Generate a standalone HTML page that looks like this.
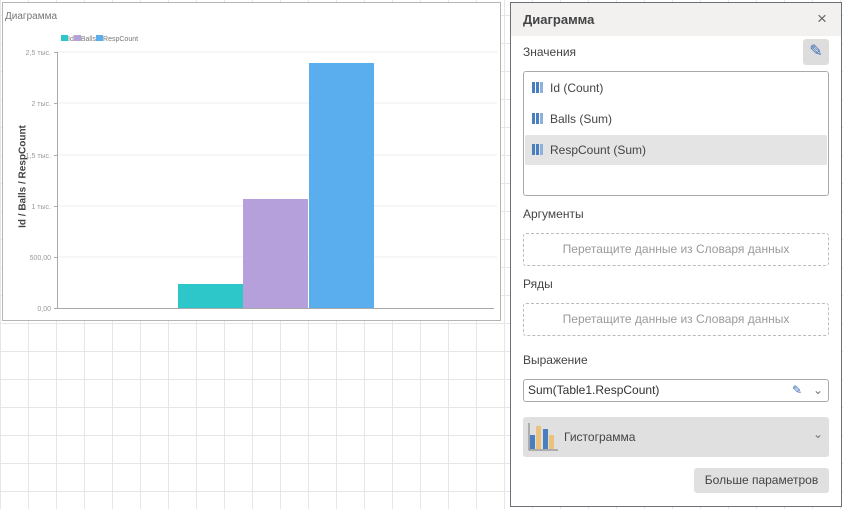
<!DOCTYPE html>
<html><head><meta charset="utf-8"><style>
*{box-sizing:border-box}
body{margin:0;width:843px;height:509px;overflow:hidden;font-family:"Liberation Sans",sans-serif;position:relative;
background-color:#fff;
background-image:linear-gradient(#e6e6e6 1px,transparent 1px),linear-gradient(90deg,#e6e6e6 1px,transparent 1px);
background-size:28px 28px;background-position:0 15px;}
.abs{position:absolute}
.chart{left:2px;top:2px;width:499px;height:319px;background:#fff;border:1px solid #b5b5b5}
.panel{left:510px;top:2px;width:332px;height:505px;background:#fff;border:1px solid #6a6f78}
.lbl{font-size:12px;color:#444}
.dash{border:1px dashed #bbb;border-radius:3px;height:33px;left:12px;width:306px;text-align:center;line-height:31px;font-size:12px;color:#9a9a9a}
.ic{display:inline-block;width:12px;height:11px;vertical-align:-1px;margin-right:6px;background:linear-gradient(90deg,#4a7fbf 0 3px,transparent 3px 4px,#4a7fbf 4px 7px,transparent 7px 8px,#8fb0d9 8px 11px,transparent 11px)}
</style></head><body>
<div class="abs chart">
 <div class="abs" style="left:2px;top:8px;font-size:10px;color:#777">Диаграмма</div>
 <div class="abs" style="left:58px;top:32px;font-size:7px;color:#777;white-space:nowrap">
  <span style="display:inline-block;width:7px;height:6px;background:#2ec7c9"></span>Id<span style="display:inline-block;width:7px;height:6px;background:#b5a0dc"></span>Balls<span style="display:inline-block;width:7px;height:6px;background:#5aaeed"></span>RespCount</div>
 <div class="abs" style="left:-40px;top:168px;transform:rotate(-90deg);font-size:10px;font-weight:bold;color:#444;width:120px;text-align:center">Id / Balls / RespCount</div>
</div>
<svg class="abs" style="left:0;top:0" width="510" height="330">
 <g stroke="#ececec">
  <line x1="57" x2="497" y1="52" y2="52"/><line x1="57" x2="497" y1="103" y2="103"/><line x1="57" x2="497" y1="155" y2="155"/><line x1="57" x2="497" y1="206" y2="206"/><line x1="57" x2="497" y1="257" y2="257"/>
 </g>
 <g stroke="#aaa"><line x1="57.5" x2="57.5" y1="52" y2="308"/><line x1="57" x2="494" y1="308.5" y2="308.5"/>
 <line x1="54" x2="57" y1="52.5" y2="52.5"/><line x1="54" x2="57" y1="103.5" y2="103.5"/><line x1="54" x2="57" y1="155.5" y2="155.5"/><line x1="54" x2="57" y1="206.5" y2="206.5"/><line x1="54" x2="57" y1="257.5" y2="257.5"/><line x1="54" x2="57" y1="308.5" y2="308.5"/></g>
 <rect x="178" y="284" width="65" height="24" fill="#2ec7c9"/>
 <rect x="243" y="199" width="65" height="109" fill="#b5a0dc"/>
 <rect x="309" y="63" width="65" height="245" fill="#5aaeed"/>
 <g font-size="7" fill="#999" text-anchor="end" font-family="Liberation Sans">
  <text x="51" y="55">2,5 тыс.</text><text x="51" y="106">2 тыс.</text><text x="51" y="158">1,5 тыс.</text><text x="51" y="209">1 тыс.</text><text x="51" y="260">500,00</text><text x="51" y="311">0,00</text>
 </g>
</svg>
<div class="abs panel">
 <div class="abs" style="left:0;top:0;width:330px;height:33px;background:#f2f1f0"></div>
 <div class="abs" style="left:12px;top:9px;font-size:13px;font-weight:bold;color:#444">Диаграмма</div>
 <div class="abs" style="left:306px;top:6px;font-size:17px;color:#666">×</div>
 <div class="abs lbl" style="left:12px;top:42px">Значения</div>
 <div class="abs" style="left:292px;top:36px;width:26px;height:26px;background:#ddd;border-radius:3px;text-align:center;line-height:26px;color:#3a6fb5;font-size:16px">✎</div>
 <div class="abs" style="left:12px;top:68px;width:306px;height:125px;border:1px solid #aaa;border-radius:3px">
  <div class="abs lbl" style="left:8px;top:9px"><span class="ic"></span>Id (Count)</div>
  <div class="abs lbl" style="left:8px;top:40px"><span class="ic"></span>Balls (Sum)</div>
  <div class="abs" style="left:1px;top:63px;width:302px;height:30px;background:#e4e4e4;border-radius:2px"></div>
  <div class="abs lbl" style="left:8px;top:71px"><span class="ic"></span>RespCount (Sum)</div>
 </div>
 <div class="abs lbl" style="left:12px;top:204px">Аргументы</div>
 <div class="abs dash" style="top:230px">Перетащите данные из Словаря данных</div>
 <div class="abs lbl" style="left:12px;top:274px">Ряды</div>
 <div class="abs dash" style="top:300px">Перетащите данные из Словаря данных</div>
 <div class="abs lbl" style="left:12px;top:350px">Выражение</div>
 <div class="abs" style="left:12px;top:376px;width:306px;height:23px;border:1px solid #aaa;border-radius:3px;font-size:12px;color:#333;line-height:21px;padding-left:4px">Sum(Table1.RespCount)<span class="abs" style="left:268px;top:0;color:#3a6fb5">✎</span><span class="abs" style="left:289px;top:0;color:#777">⌄</span></div>
 <div class="abs" style="left:12px;top:414px;width:306px;height:40px;background:#e0e0e0;border-radius:3px">
  <svg class="abs" style="left:5px;top:6px" width="32" height="30"><rect x="2" y="12" width="5" height="14" fill="#4a7fbf"/><rect x="8" y="3" width="5" height="23" fill="#eac27e"/><rect x="15" y="6" width="5" height="20" fill="#4a7fbf"/><rect x="21" y="12" width="5" height="14" fill="#eac27e"/><path d="M1 0V27H30" stroke="#777" fill="none"/></svg>
  <div class="abs lbl" style="left:41px;top:13px">Гистограмма</div>
  <div class="abs" style="left:290px;top:10px;color:#777;font-size:12px">⌄</div>
 </div>
 <div class="abs" style="left:183px;top:465px;width:135px;height:25px;background:#e0e0e0;border-radius:3px;font-size:12px;color:#444;text-align:center;line-height:25px">Больше параметров</div>
</div>
</body></html>
